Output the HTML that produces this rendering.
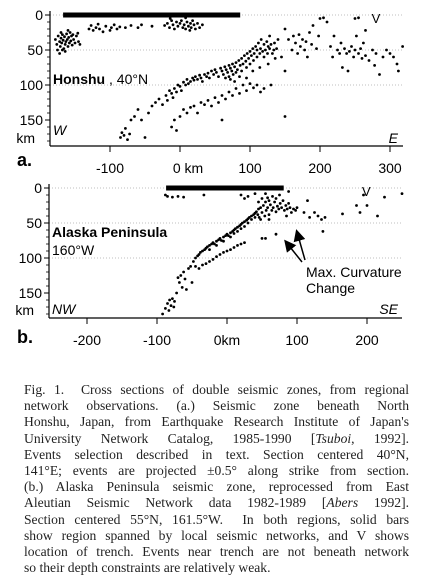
<!DOCTYPE html>
<html><head><meta charset="utf-8"><style>
body{margin:0;background:#fff;width:424px;height:578px;overflow:hidden;position:relative}
svg{position:absolute;left:0;top:0}
#cap{position:absolute;left:24px;top:382px;width:385px;font-family:"Liberation Serif",serif;font-size:13.6px;line-height:16.2px;color:#222}
#cap div{text-align:justify;text-align-last:justify;white-space:nowrap;overflow:visible}
#cap div.last{text-align-last:left}
</style></head><body>
<svg id="fig" width="424" height="390" font-family="Liberation Sans, sans-serif"></svg>
<div id="cap">
<div>Fig. 1. &nbsp;Cross sections of double seismic zones, from regional</div>
<div>network observations. (a.) Seismic zone beneath North</div>
<div>Honshu, Japan, from Earthquake Research Institute of Japan's</div>
<div>University Network Catalog, 1985-1990 [<i>Tsuboi</i>, 1992].</div>
<div>Events selection described in text. Section centered 40°N,</div>
<div>141°E; events are projected ±0.5° along strike from section.</div>
<div>(b.) Alaska Peninsula seismic zone, reprocessed from East</div>
<div>Aleutian Seismic Network data 1982-1989 [<i>Abers</i> 1992].</div>
<div>Section centered 55°N, 161.5°W. &nbsp;In both regions, solid bars</div>
<div>show region spanned by local seismic networks, and V shows</div>
<div>location of trench. Events near trench are not beneath network</div>
<div class="last">so their depth constraints are relatively weak.</div>
</div>
<script>
const aTicksX=[-100,0,100,200,300];
const aTickLabels=["-100","0  km","100","200","300"];
const bTicksX=[-200,-100,0,100,200];
const bTickLabels=["-200","-100","0km","100","200"];
const depthTicks=[0,50,100,150];
const aX=[-178,-176,-174,-172,-171,-170,-169,-168,-167,-166,-165,-164,-163,-162,-161,-160,-159,-158,-157,-156,-155,-154,-153,-152,-150,-148,-146,-145,-143,-175,-172,-168,-164,-170,-160,
-130,-127,-124,-120,-117,-115,-110,-106,-100,-98,-94,-90,-86,-78,-70,-60,-55,-40,
-22,-18,-15,-12,-10,-8,-5,-3,0,2,4,6,8,10,12,14,15,16,18,20,22,25,28,32,-14,8,
-85,-83,-80,-78,-75,-72,-70,-65,-60,-55,-50,-45,-40,-35,-30,-25,-20,-18,-15,-12,-10,-8,-5,-3,0,2,5,8,10,12,15,18,20,22,25,28,30,32,35,38,40,42,45,48,50,52,55,58,60,62,64,65,66,68,70,70,72,72,74,75,76,78,78,80,80,82,84,85,86,88,88,90,92,94,95,96,98,100,100,102,104,105,106,108,110,110,112,114,115,116,118,120,120,122,124,125,126,128,128,130,132,134,135,136,138,140,104,114,126,95,
-12,-8,-5,0,5,10,15,20,25,30,35,40,45,50,55,60,65,70,75,80,85,90,95,100,105,110,115,120,130,60,150,
150,155,160,162,165,168,170,172,175,178,180,182,185,188,190,195,198,200,205,210,215,218,220,225,228,230,232,235,238,240,242,245,248,250,252,255,258,260,262,265,270,275,278,280,285,290,295,300,305,310,312,318,250,255,265,150,145];
const aD=[35,42,30,38,45,33,40,28,36,48,31,42,38,27,35,45,32,40,25,37,30,43,28,35,40,30,26,38,42,50,55,50,52,25,22,
20,15,22,18,13,20,24,16,22,18,14,20,17,18,15,18,14,16,
15,12,18,8,14,20,10,16,12,8,18,14,20,10,16,22,12,18,8,14,20,12,18,14,5,4,
175,168,172,162,178,170,150,145,135,150,175,140,130,125,120,128,115,122,108,112,118,105,110,100,102,108,96,100,92,98,95,90,93,88,92,86,90,95,85,88,83,90,80,85,78,82,88,76,80,85,74,90,78,82,72,88,76,92,80,70,85,74,95,68,82,78,65,88,72,62,80,70,58,66,75,55,62,52,70,58,48,65,55,45,60,50,40,55,48,35,52,42,60,50,38,55,45,30,48,42,55,50,40,62,48,35,80,75,70,90,
160,150,165,145,135,140,132,130,140,125,128,122,130,118,125,115,120,110,115,105,112,100,108,98,104,100,110,105,100,150,145,
20,35,50,30,40,55,28,45,35,50,38,60,25,42,15,48,30,5,4,10,45,60,30,50,55,40,75,48,55,80,52,45,60,50,30,55,48,62,40,58,65,50,72,55,85,60,50,55,60,70,80,45,5,4,22,80,60];
const bX=[-88,-85,-78,-70,-62,-33,
-92,-88,-85,-83,-82,-80,-78,-76,-75,-72,-70,-68,-66,-64,-62,-60,-58,-55,-52,-50,-48,-45,-42,-40,-38,-35,-32,-30,-28,-25,-22,-20,-18,-15,-12,-10,-8,-5,-2,0,2,5,8,10,12,15,18,20,22,25,28,30,32,35,38,40,42,44,45,46,48,50,52,54,55,56,58,60,60,62,64,65,66,68,70,70,72,74,75,76,78,80,82,84,86,88,90,92,95,98,100,48,40,35,30,25,20,15,10,5,-5,-15,-25,60,20,25,30,40,45,50,55,58,88,85,-45,
-40,-35,-30,-25,-20,-15,-10,-5,0,5,10,15,20,25,50,55,70,
110,115,118,125,130,135,137,140,165,185,190,200,215,225,250,195];
const bD=[10,12,13,12,13,10,
180,172,165,175,160,168,158,170,162,150,128,135,125,142,120,130,145,115,112,135,105,100,97,95,92,90,88,86,84,82,80,78,80,76,74,72,75,70,68,66,68,64,62,60,58,56,54,52,50,48,46,44,42,40,38,36,34,38,30,42,28,35,25,40,20,32,28,18,38,24,32,12,28,20,34,15,26,30,10,22,28,18,32,25,30,22,28,35,30,32,28,45,42,45,50,55,58,62,65,70,76,82,88,45,10,15,12,8,20,15,8,14,5,40,112,
115,110,108,105,102,98,95,92,90,88,85,82,80,78,72,72,66,
35,18,42,35,40,45,62,42,37,25,35,25,40,13,8,10];
const NS='http://www.w3.org/2000/svg';
const svg=document.getElementById('fig');
function mk(t,a,name){const e=document.createElementNS(NS,t);for(const k in a)e.setAttribute(k,a[k]);


svg.appendChild(e);return e;}
function panel(o){
 const sx=v=>o.x0+v*0.7, sy=d=>o.y0+d*0.7;
 depthTicks.forEach(d=>{ if(d<150) mk('line',{x1:o.left,x2:o.right,y1:sy(d),y2:sy(d),stroke:'#aaa','stroke-width':0.8,'stroke-dasharray':'1 2'},'grid-line');
  mk('line',{x1:o.left-5,x2:o.left,y1:sy(d),y2:sy(d),stroke:'#000','stroke-width':1},'y-tick');
  const t=mk('text',{x:o.left-7,y:sy(d)+5,'text-anchor':'end','font-size':14},'y-tick-label');t.textContent=d;});
 for(let d=10;d<=180;d+=10){ if(d%50) mk('line',{x1:o.left-3,x2:o.left,y1:sy(d),y2:sy(d),stroke:'#000','stroke-width':0.8},'y-minor-tick');}
 const km=mk('text',{x:o.left-15,y:o.bottom-3,'text-anchor':'end','font-size':14},'y-unit');km.textContent='km';
 mk('line',{x1:o.left,x2:o.left,y1:sy(0)-4,y2:o.bottom,stroke:'#000','stroke-width':1.2},'y-axis');
 mk('line',{x1:o.left,x2:o.right,y1:o.bottom,y2:o.bottom,stroke:'#000','stroke-width':1.2},'x-axis');
 o.ticks.forEach((v,i)=>{mk('line',{x1:sx(v),x2:sx(v),y1:o.bottom,y2:o.bottom+6,stroke:'#000','stroke-width':1},'x-tick');
  const t=mk('text',{x:sx(v)+(i==o.zi?8:0),y:o.bottom+27,'text-anchor':'middle','font-size':14,'xml:space':'preserve'},'x-tick-label');t.textContent=o.labels[i];});
 mk('rect',{x:sx(o.bar[0]),y:sy(0)-2.5,width:(o.bar[1]-o.bar[0])*0.7,height:5,fill:'#000'},'network-bar');
 const v=mk('text',{x:sx(o.trench),y:sy(0)+8,'text-anchor':'middle','font-size':13},'trench-marker');v.textContent='V';
 o.xs.forEach((x,i)=>{const cx=sx(x),cy=sy(o.ds[i]);if(cx>o.left&&cx<o.right+5)mk('circle',{cx:cx,cy:cy,r:1.4,fill:'#000'},'earthquake-point');});
}
panel({x0:180,y0:15,left:50,right:403,bottom:146,ticks:aTicksX,labels:aTickLabels,zi:1,bar:[-167,86],trench:280,xs:aX,ds:aD});
panel({x0:227,y0:188,left:49,right:402,bottom:318,ticks:bTicksX,labels:bTickLabels,zi:-1,bar:[-87,81],trench:199,xs:bX,ds:bD});
function txt(x,y,s,a,name){const t=mk('text',Object.assign({x:x,y:y,'font-size':14},a||{}),name);t.innerHTML=s;return t;}
txt(53,84,'<tspan font-weight="bold">Honshu</tspan> , 40°N',{},'panel-a-title');
txt(53,135,'W',{'font-style':'italic'},'west-label');
txt(398,143,'E',{'font-style':'italic','text-anchor':'end'},'east-label');
txt(17,166,'a.',{'font-weight':'bold','font-size':18},'panel-a-label');
txt(52,237,'Alaska Peninsula',{'font-weight':'bold'},'panel-b-title');
txt(52,255,'160°W',{},'panel-b-subtitle');
txt(52,314,'NW',{'font-style':'italic'},'northwest-label');
txt(398,314,'SE',{'font-style':'italic','text-anchor':'end'},'southeast-label');
txt(17,343,'b.',{'font-weight':'bold','font-size':18},'panel-b-label');
txt(306,277,'Max. Curvature',{},'annotation-text');
txt(306,293,'Change',{},'annotation-text-2');
const defs=mk('defs',{},'defs');defs.innerHTML='<marker id="ah" markerWidth="8" markerHeight="8" refX="6" refY="4" orient="auto"><path d="M0,0L8,4L0,8z" fill="#000"/></marker>';
mk('line',{x1:302,y1:262,x2:286,y2:242,stroke:'#000','stroke-width':1.5,'marker-end':'url(#ah)'},'annotation-arrow');
mk('line',{x1:305,y1:260,x2:297,y2:232,stroke:'#000','stroke-width':1.5,'marker-end':'url(#ah)'},'annotation-arrow');
</script>
</body></html>
